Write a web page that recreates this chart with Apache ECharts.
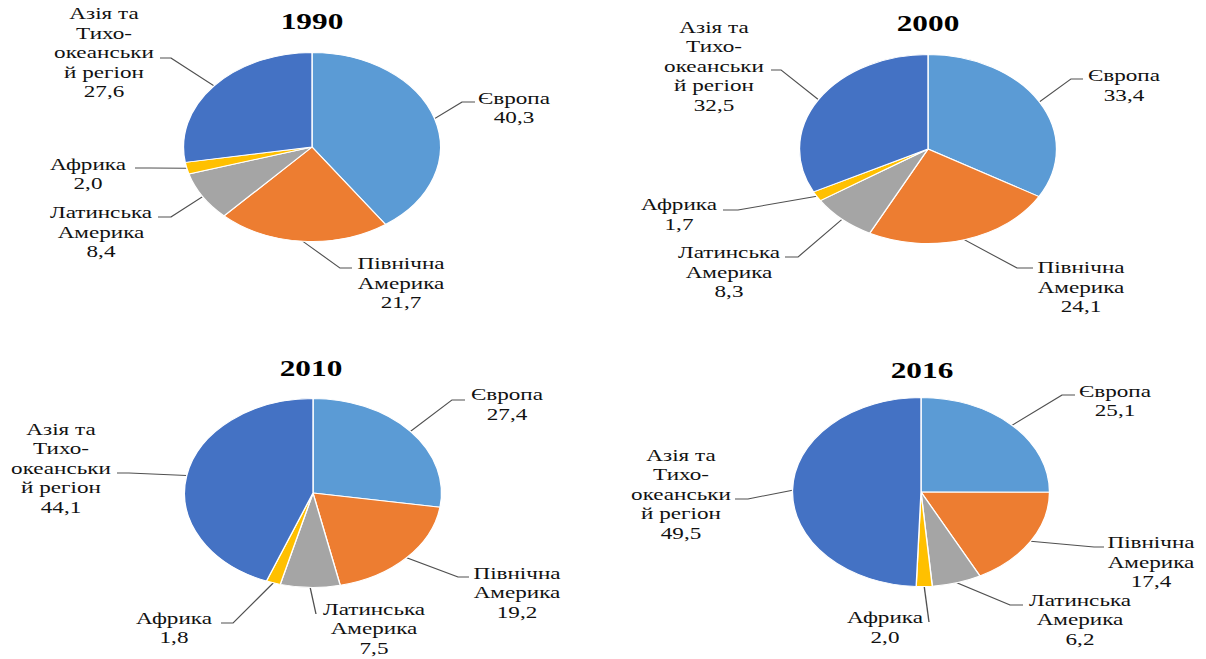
<!DOCTYPE html>
<html><head><meta charset="utf-8">
<script src="https://cdn.jsdelivr.net/npm/echarts@6/dist/echarts.min.js"></script>
<style>
html,body{margin:0;padding:0;background:#fff;overflow:hidden}
#wrap{width:1206px;height:659px;overflow:hidden;position:relative}
#chart{height:659px;transform-origin:0 0;position:absolute;left:0;top:0}
</style></head><body>
<div id="wrap"><div id="chart"></div></div>
<script>
// ---- data ----
const years = ['1990', '2000', '2010', '2016'];
const categories = ['Європа', 'Північна\nАмерика', 'Латинська\nАмерика', 'Африка', 'Азія та\nТихо-\nокеанськи\nй регіон'];
const values1990 = [40.3, 21.7, 8.4, 2.0, 27.6];
const values2000 = [33.4, 24.1, 8.3, 1.7, 32.5];
const values2010 = [27.4, 19.2, 7.5, 1.8, 44.1];
const values2016 = [25.1, 17.4, 6.2, 2.0, 49.5];
const seriesValues = [values1990, values2000, values2010, values2016];

// ---- layout / style ----
const colors = ['#5B9BD5', '#ED7D31', '#A5A5A5', '#FFC000', '#4472C4'];
const FONT = "'Liberation Serif', 'Times New Roman', serif";
const SX = 1.36;            // horizontal stretch of the original picture
const W = 1206, H = 659;
const W0 = W / SX;
const RADIUS = 94.5;
const pieCenters = [[312, 147], [928, 149], [313, 493], [921, 492]];
const titlePos = [[312, 21], [928, 23], [311, 368], [922, 370]];
// label placement per pie: [labelX, labelY, elbowX, elbowY, endX, endY]
const labelPlaces = [
  [[514,107.5,462,102,475,102],[401,283,340,268,352,268],[101,232,171,217,158,217],[88,173.5,150,168,135,168],[104,52.5,171,58,160,58]],
  [[1124,85,1071,79,1083,79],[1081,287,1017,268,1033,268],[729,272,798,257,785,257],[679,214,738,210,723,210],[714,66,781,70,771,70]],
  [[507,404,452,400,465,400],[517,592.5,458,577,469,577],[374,628.5,316,614,316,614],[174,627.5,233,623,221,623],[61,468,129,473,117,473]],
  [[1115,400.5,1062,395,1075,395],[1151,562,1094,547,1104,547],[1080,619.5,1010,605,1023,605],[885,627,929,622,929,622],[681,494,748,499,735,499]]
];

const el = document.getElementById('chart');
el.style.width = W0 + 'px';
el.style.transform = 'scaleX(' + SX + ')';
const chart = echarts.init(el, null, {renderer: 'svg', width: W0, height: H});

const fmt = v => v.toFixed(1).replace('.', ',');

const option = {
  backgroundColor: '#fff',
  animation: false,
  title: years.map((y, i) => ({
    text: y,
    left: titlePos[i][0] / SX,
    top: titlePos[i][1],
    textAlign: 'center',
    textVerticalAlign: 'middle',
    padding: 0,
    textStyle: {fontFamily: FONT, fontWeight: 'bold', fontSize: 23, color: '#000'}
  })),
  series: years.map((y, si) => ({
    type: 'pie',
    name: y,
    center: [pieCenters[si][0] / SX, pieCenters[si][1]],
    radius: RADIUS,
    startAngle: 90,
    clockwise: true,
    avoidLabelOverlap: false,
    emphasis: {disabled: true},
    itemStyle: {borderColor: '#ffffff', borderWidth: 1},
    label: {
      show: true,
      position: 'outside',
      formatter: p => p.name + '\n' + fmt(p.value),
      fontFamily: FONT,
      fontSize: 17,
      lineHeight: 19.5,
      color: '#111',
      align: 'center'
    },
    labelLine: {show: true, length: 10, length2: 10, lineStyle: {color: '#505050', width: 1}},
    labelLayout: function (params) {
      const L = labelPlaces[si][params.dataIndex];
      const pts = params.labelLinePoints;
      const anchor = pts ? pts[0] : [L[2] / SX, L[3]];
      return {
        x: L[0] / SX,
        y: L[1],
        align: 'center',
        verticalAlign: 'middle',
        labelLinePoints: [anchor, [L[2] / SX, L[3]], [L[4] / SX, L[5]]]
      };
    },
    data: categories.map((c, i) => ({
      name: c,
      value: seriesValues[si][i],
      itemStyle: {color: colors[i]}
    }))
  }))
};
chart.setOption(option);
</script>
</body></html>
